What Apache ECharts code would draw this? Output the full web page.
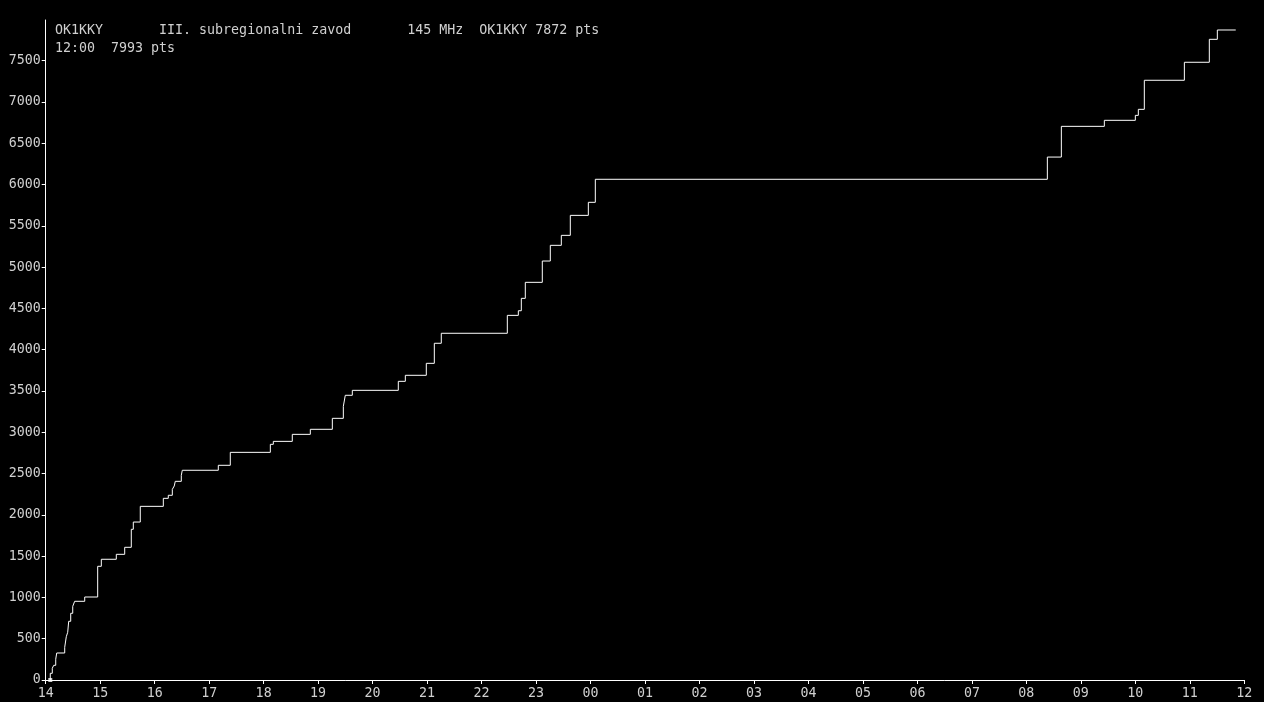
<!DOCTYPE html>
<html>
<head>
<meta charset="utf-8">
<script src="https://cdn.jsdelivr.net/npm/echarts@6/dist/echarts.min.js"></script>
<style>
html,body{margin:0;padding:0;background:#000;}
#chart{width:1264px;height:702px;}
</style>
</head>
<body>
<div id="chart"></div>
<script>
// hours elapsed since 14:00 at which the score steps up
const stepHours = [0.084, 0.084, 0.121, 0.147, 0.184, 0.202, 0.349, 0.378, 0.404, 0.422, 0.459, 0.496, 0.532, 0.716,
  0.954, 1.021, 1.296, 1.450, 1.571, 1.608, 1.736, 2.159, 2.250, 2.324, 2.342, 2.360, 2.378, 2.489, 2.507,
  3.168, 3.388, 4.123, 4.178, 4.526, 4.857, 5.261, 5.463, 5.499, 5.628, 6.472, 6.601, 6.986, 7.133, 7.261,
  8.473, 8.675, 8.730, 8.803, 9.115, 9.262, 9.464, 9.629, 9.960, 10.088,
  18.385, 18.642, 19.431, 20.000, 20.055, 20.165, 20.900, 21.358, 21.505, 21.843];
// cumulative points after each step
const stepPoints = [0, 81, 142, 178, 251, 327, 396, 524, 578, 711, 808, 892, 953, 1005,
  1377, 1462, 1522, 1607, 1825, 1913, 2103, 2200, 2237, 2309, 2329, 2350, 2406, 2479, 2540,
  2600, 2757, 2854, 2890, 2975, 3036, 3169, 3314, 3448, 3508, 3617, 3690, 3835, 4078, 4199,
  4416, 4472, 4622, 4816, 5074, 5264, 5385, 5627, 5785, 6064,
  6333, 6705, 6778, 6838, 6911, 7263, 7481, 7759, 7872, 7872];
const hourLabels = ['14','15','16','17','18','19','20','21','22','23','00','01','02','03','04','05','06','07','08','09','10','11','12'];
const yTicks = [0,500,1000,1500,2000,2500,3000,3500,4000,4500,5000,5500,6000,6500,7000,7500];
const headerLine1 = 'OK1KKY       III. subregionalni zavod       145 MHz  OK1KKY 7872 pts';
const headerLine2 = '12:00  7993 pts';
const yMax = 7993;

const FONT = '"DejaVu Sans Mono", "Liberation Mono", monospace';
const chart = echarts.init(document.getElementById('chart'), null, {renderer: 'canvas'});
const data = stepHours.map((h, i) => [h, stepPoints[i]]);
chart.setOption({
  backgroundColor: '#000',
  animation: false,
  grid: {left: 45.7, right: 19.7, top: 20, bottom: 22, containLabel: false},
  title: {
    left: 55, top: 22, padding: 0,
    text: headerLine1 + '\n' + headerLine2,
    textStyle: {color: '#d0d0d0', fontFamily: FONT, fontSize: 13.3, fontWeight: 'normal', lineHeight: 18}
  },
  xAxis: {
    type: 'value', min: 0, max: 22, interval: 1,
    axisLine: {lineStyle: {color: '#ffffff', width: 1}},
    axisTick: {length: 4, lineStyle: {color: '#ffffff'}},
    splitLine: {show: false},
    axisLabel: {color: '#d0d0d0', fontFamily: FONT, fontSize: 13.3, margin: 7,
      formatter: v => hourLabels[Math.round(v)]}
  },
  yAxis: {
    type: 'value', min: 0, max: yMax,
    axisLine: {show: true, lineStyle: {color: '#ffffff', width: 1}},
    axisTick: {show: true, length: 4, lineStyle: {color: '#ffffff'}, customValues: yTicks},
    splitLine: {show: false},
    axisLabel: {color: '#d0d0d0', fontFamily: FONT, fontSize: 13.3, margin: 5, customValues: yTicks,
      formatter: v => String(v)}
  },
  series: [{
    type: 'line', step: 'end', data: data, showSymbol: false, symbol: 'none',
    lineStyle: {color: '#ffffff', width: 1}
  }, {
    type: 'scatter', data: [data[0]], symbol: 'rect', symbolSize: 4,
    itemStyle: {color: '#ffffff'}
  }]
});
</script>
</body>
</html>
